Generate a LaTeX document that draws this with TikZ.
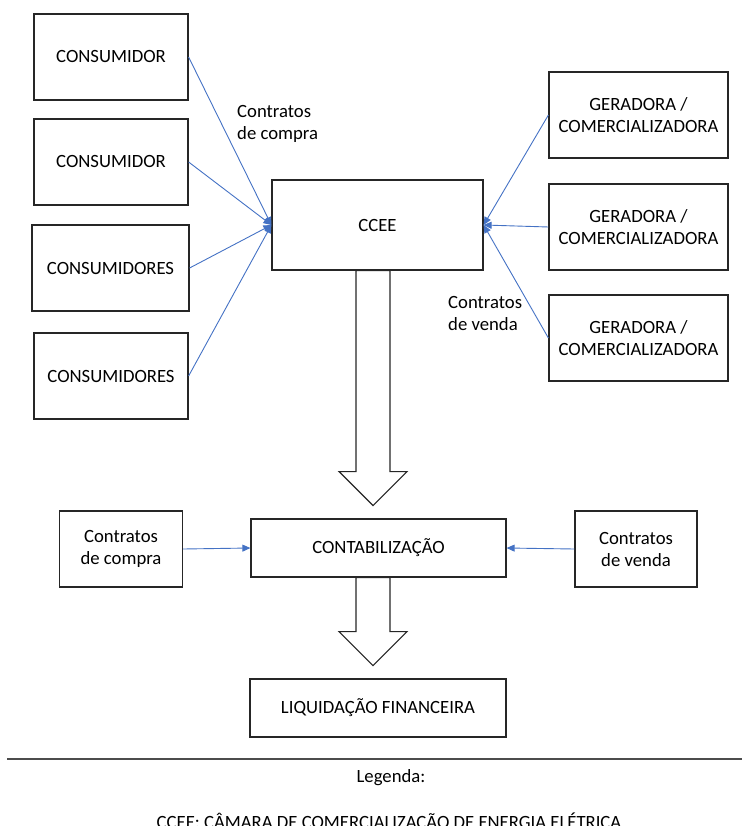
\documentclass[tikz,border=0pt]{standalone}
\usepackage{fontspec}
\setmainfont{Carlito}
\usetikzlibrary{arrows.meta}
\usetikzlibrary{calc}
\usetikzlibrary{positioning}
\definecolor{azul}{HTML}{4472C4}
\tikzset{
    caixa/.style = {draw=black!85, line width=1.2pt, align=center, inner sep=0pt,
        text centered, font=\fontsize{18.7}{22}\selectfont},% caixa de texto
    caixa_c/.style = {caixa, minimum width=154, minimum height=86},% consumidor
    caixa_g/.style = {caixa, minimum width=179, minimum height=86},% geradora
    caixa_k/.style = {caixa, minimum width=123, minimum height=76},% contratos
    rotulo/.style = {align=left, inner sep=0pt, font=\fontsize{18.7}{22}\selectfont},% texto solto
    contrato/.style = {draw=azul, line width=0.9pt, -{Triangle[length=8pt,width=7pt]}},% linha azul
    bloco/.style = {draw=black!85, line width=1.2pt, fill=white},% seta larga
}

\begin{document}
\begin{tikzpicture}[x=1pt,y=-1pt]
\useasboundingbox (0,0) rectangle (742,826);
\clip (0,0) rectangle (742,826);
% consumidores
\node [caixa_c] (cons1) at (111,57) {CONSUMIDOR};
\node [caixa_c] (cons2) at (111,162) {CONSUMIDOR};
\node [caixa_c, minimum width=157] (cons3) at (110.5,268) {CONSUMIDORES};
\node [caixa_c] (cons4) at (111,376) {CONSUMIDORES};
% camara
\node [caixa, minimum width=211, minimum height=90] (ccee) at (377.5,225) {CCEE};
% geradoras
\node [caixa_g] (ger1) at (638.5,115) {GERADORA /\\COMERCIALIZADORA};
\node [caixa_g] (ger2) at (638.5,227) {GERADORA /\\COMERCIALIZADORA};
\node [caixa_g] (ger3) at (638.5,338) {GERADORA /\\COMERCIALIZADORA};
\node [rotulo, anchor=west] (lcompra) at (237,124) {Contratos\\de compra};
\node [rotulo, anchor=west] (lvenda) at (448,313) {Contratos\\de venda};
% contabilizacao
\node [caixa, minimum width=255, minimum height=58] (contab) at (378.5,548) {CONTABILIZAÇÃO};
\node [caixa_k] (kcompra) at (121,549) {Contratos\\de compra};
\node [caixa_k, minimum width=122] (kvenda) at (636,549) {Contratos\\de venda};
\node [caixa, minimum width=256, minimum height=58] (liquid) at (378,708) {LIQUIDAÇÃO FINANCEIRA};
% legenda
\node [rotulo] (leg) at (391,778) {Legenda:};
\node [rotulo] (legccee) at (389,822) {CCEE: CÂMARA DE COMERCIALIZAÇÃO DE ENERGIA ELÉTRICA};

\foreach \c in {cons1,cons2,cons3,cons4}
    \draw [contrato] (\c.east) -- (ccee.west);
\foreach \g in {ger1,ger2,ger3}
    \draw [contrato] (\g.west) -- (ccee.east);
\draw [contrato] (kcompra.east) -- (contab.west);
\draw [contrato] (kvenda.west) -- (contab.east);

% setas largas
\draw [bloco] ($(ccee.south)+(-21.5,0)$) -- ++(0,201) -- ++(-17,0) -- ++(34,34)
    -- ++(34,-34) -- ++(-17,0) -- ++(0,-201) -- cycle;
\draw [bloco] ($(contab.south)+(-22.5,0)$) -- ++(0,54) -- ++(-17,0) -- ++(34,34)
    -- ++(34,-34) -- ++(-17,0) -- ++(0,-54) -- cycle;

\draw [black!70, line width=1.5pt] (7,759) -- (742,759);
\end{tikzpicture}
\end{document}
